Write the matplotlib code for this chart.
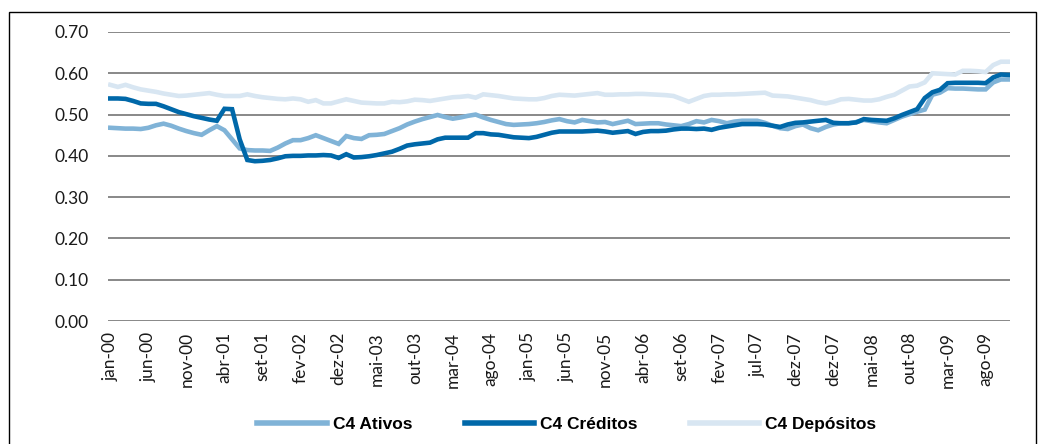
import numpy as np
import matplotlib
matplotlib.use("Agg")
import matplotlib.pyplot as plt
from matplotlib.patches import Rectangle

# labels every 5th month on the category axis (as printed in the source)
tick_labels = ['jan-00', 'jun-00', 'nov-00', 'abr-01', 'set-01', 'fev-02', 'dez-02',
               'mai-03', 'out-03', 'mar-04', 'ago-04', 'jan-05', 'jun-05', 'nov-05',
               'abr-06', 'set-06', 'fev-07', 'jul-07', 'dez-07', 'dez-07', 'mai-08',
               'out-08', 'mar-09', 'ago-09']
tick_step = 5

ativos = [0.468, 0.467, 0.466, 0.466, 0.465, 0.468, 0.474, 0.478, 0.473, 0.466,
          0.460, 0.455, 0.451, 0.462, 0.472, 0.462, 0.440, 0.418, 0.414, 0.413,
          0.413, 0.412, 0.420, 0.430, 0.438, 0.438, 0.443, 0.450, 0.443, 0.436,
          0.429, 0.448, 0.443, 0.441, 0.450, 0.451, 0.453, 0.460, 0.467, 0.476,
          0.483, 0.489, 0.494, 0.499, 0.494, 0.490, 0.493, 0.497, 0.500, 0.493,
          0.487, 0.482, 0.477, 0.475, 0.476, 0.477, 0.479, 0.482, 0.486, 0.489,
          0.484, 0.481, 0.487, 0.484, 0.481, 0.482, 0.477, 0.481, 0.485, 0.477,
          0.478, 0.479, 0.479, 0.476, 0.474, 0.472, 0.477, 0.484, 0.481, 0.487,
          0.484, 0.479, 0.483, 0.485, 0.485, 0.485, 0.480, 0.473, 0.467, 0.465,
          0.472, 0.476, 0.467, 0.462, 0.470, 0.476, 0.479, 0.479, 0.482, 0.487,
          0.484, 0.481, 0.479, 0.487, 0.495, 0.501, 0.507, 0.512, 0.548, 0.553,
          0.564, 0.563, 0.563, 0.562, 0.561, 0.561, 0.578, 0.585, 0.585]

creditos = [0.539, 0.539, 0.538, 0.533, 0.527, 0.526, 0.526, 0.520, 0.513, 0.506,
            0.501, 0.496, 0.492, 0.488, 0.485, 0.514, 0.513, 0.440, 0.390, 0.387,
            0.388, 0.390, 0.394, 0.399, 0.400, 0.400, 0.401, 0.401, 0.402, 0.401,
            0.395, 0.404, 0.396, 0.397, 0.399, 0.402, 0.406, 0.410, 0.417, 0.425,
            0.428, 0.430, 0.432, 0.440, 0.444, 0.444, 0.444, 0.444, 0.455, 0.455,
            0.452, 0.451, 0.448, 0.445, 0.444, 0.443, 0.446, 0.451, 0.456, 0.459,
            0.459, 0.459, 0.459, 0.460, 0.461, 0.459, 0.456, 0.458, 0.460, 0.453,
            0.458, 0.460, 0.460, 0.461, 0.464, 0.466, 0.466, 0.465, 0.466, 0.463,
            0.468, 0.471, 0.474, 0.477, 0.477, 0.477, 0.476, 0.473, 0.470, 0.476,
            0.480, 0.481, 0.483, 0.485, 0.487, 0.480, 0.479, 0.479, 0.481, 0.489,
            0.487, 0.486, 0.485, 0.491, 0.499, 0.506, 0.513, 0.540, 0.554, 0.560,
            0.576, 0.577, 0.577, 0.577, 0.577, 0.576, 0.590, 0.597, 0.596]

depositos = [0.572, 0.567, 0.572, 0.566, 0.561, 0.558, 0.555, 0.551, 0.548, 0.545,
             0.546, 0.548, 0.550, 0.552, 0.548, 0.545, 0.545, 0.545, 0.549, 0.545,
             0.542, 0.540, 0.538, 0.537, 0.539, 0.537, 0.531, 0.535, 0.527, 0.527,
             0.532, 0.537, 0.533, 0.529, 0.528, 0.527, 0.527, 0.531, 0.530, 0.532,
             0.536, 0.535, 0.533, 0.536, 0.539, 0.542, 0.543, 0.545, 0.541, 0.549,
             0.547, 0.545, 0.542, 0.539, 0.538, 0.537, 0.537, 0.540, 0.545, 0.548,
             0.547, 0.546, 0.548, 0.550, 0.552, 0.548, 0.548, 0.549, 0.549, 0.550,
             0.550, 0.549, 0.548, 0.547, 0.545, 0.538, 0.531, 0.538, 0.545, 0.548,
             0.548, 0.549, 0.549, 0.550, 0.551, 0.552, 0.553, 0.546, 0.545, 0.544,
             0.541, 0.538, 0.535, 0.530, 0.527, 0.531, 0.537, 0.538, 0.536, 0.534,
             0.534, 0.537, 0.543, 0.548, 0.558, 0.568, 0.570, 0.578, 0.600, 0.599,
             0.598, 0.597, 0.606, 0.606, 0.605, 0.603, 0.620, 0.628, 0.628]

series = [('C4 Ativos', ativos, '#80b3d7'),
          ('C4 Créditos', creditos, '#0068a9'),
          ('C4 Depósitos', depositos, '#d8e6f2')]

fig = plt.figure(figsize=(10.42, 4.44), dpi=100)
ax = fig.add_axes([108 / 1042, 1 - 321 / 444, (1010 - 108) / 1042, (321 - 32) / 444])

x = np.arange(len(ativos))
for name, vals, col in series:
    ax.plot(x, vals, color=col, lw=3.3, label=name, solid_joinstyle='miter')

ax.set_ylim(0, 0.70)
ax.set_yticks(np.arange(0, 0.71, 0.1))
ax.set_yticklabels(['%.2f' % v for v in np.arange(0, 0.71, 0.1)])
ax.set_xlim(-0.3, len(ativos) - 0.8)
ax.set_xticks(np.arange(0, len(tick_labels) * tick_step, tick_step))
ax.set_xticklabels(tick_labels, rotation=90)

ax.grid(axis='y', color='#7f7f7f', lw=1.3)
ax.set_axisbelow(True)
for s in ax.spines.values():
    s.set_visible(False)
ax.tick_params(axis='both', length=0, labelsize=12.5, colors='#1a1a1a')
ax.tick_params(axis='y', pad=14)
ax.tick_params(axis='x', pad=8)
for lab in ax.get_xticklabels() + ax.get_yticklabels():
    lab.set_family(['Lato', 'DejaVu Sans'])

leg = fig.legend(loc='center', bbox_to_anchor=(0.544, 0.043), ncol=3, frameon=False,
                 handlelength=4.0, handletextpad=0.35, columnspacing=3.0,
                 prop={'family': ['Liberation Sans', 'DejaVu Sans'],
                       'weight': 'bold', 'size': 12.5})
for h in leg.get_lines():
    h.set_linewidth(4)

# thin frame around the whole figure
fig.patches.append(Rectangle((9 / 1042, -0.1), (1036 - 9) / 1042, 1.1 - 12 / 444,
                             transform=fig.transFigure, fill=False,
                             edgecolor='black', lw=1.0))

fig.savefig('out.png', dpi=100)
